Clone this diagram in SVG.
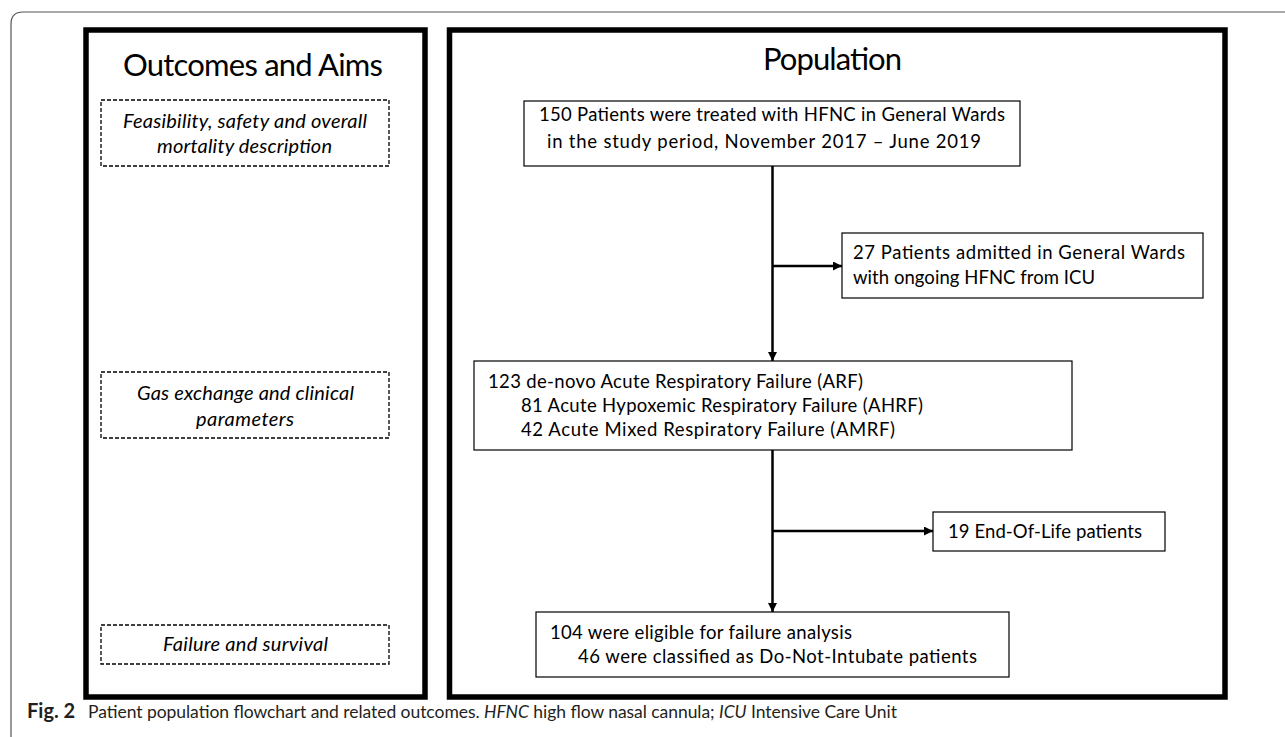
<svg xmlns="http://www.w3.org/2000/svg" width="1285" height="737" viewBox="0 0 1285 737">
<defs>
<marker id="arr" viewBox="0 0 10 10" refX="10" refY="5" markerWidth="10" markerHeight="9" markerUnits="userSpaceOnUse" orient="auto">
<path d="M0,0 L10,5 L0,10 z" fill="#000"/>
</marker>
<style>
.panel{fill:#fff;stroke:#000;stroke-width:5.5}
.dash{fill:#fff;stroke:#000;stroke-width:1.3;stroke-dasharray:4 2}
.box{fill:#fff;stroke:#000;stroke-width:1.2}
.title{font-family:Lato,"Open Sans",sans-serif;font-size:31px;fill:#000}
.it{font-family:Lato,"Open Sans",sans-serif;font-size:20px;font-style:italic;fill:#000}
.t{font-family:Lato,"Open Sans",sans-serif;font-size:18.5px;fill:#000}
.cap{font-family:Lato,"Open Sans",sans-serif;font-size:17.5px;fill:#231f20}
.capb{font-family:Lato,"Open Sans",sans-serif;font-size:20px;font-weight:bold;fill:#231f20}
.conn{stroke:#000;stroke-width:2.5;fill:none}
</style>
</defs>
<rect width="1285" height="737" fill="#fff"/>
<path d="M11,737 V24 Q11,12 23,12 H1285" fill="none" stroke="#555" stroke-width="1.2"/>

<g id="panel-outcomes">
<rect class="panel" x="86" y="30" width="339" height="667"/>
<text class="title" x="123" y="76" textLength="260">Outcomes and Aims</text>
</g>
<g id="aim-feasibility">
<rect class="dash" x="101" y="100" width="288" height="66"/>
<text class="it" x="123" y="128" textLength="244">Feasibility, safety and overall</text>
<text class="it" x="157" y="153" textLength="175">mortality description</text>
</g>
<g id="aim-gas">
<rect class="dash" x="101" y="372" width="288" height="66"/>
<text class="it" x="137" y="400" textLength="217">Gas exchange and clinical</text>
<text class="it" x="196" y="426" textLength="98">parameters</text>
</g>
<g id="aim-failure">
<rect class="dash" x="101" y="625" width="288" height="39"/>
<text class="it" x="163" y="651" textLength="165">Failure and survival</text>
</g>

<g id="panel-population">
<rect class="panel" x="449.5" y="30" width="775.5" height="667"/>
<text class="title" x="763" y="70" textLength="139">Population</text>
</g>

<g id="connectors">
<line class="conn" x1="772.5" y1="166" x2="772.5" y2="361" marker-end="url(#arr)"/>
<line class="conn" x1="772.5" y1="266" x2="842" y2="266" marker-end="url(#arr)"/>
<line class="conn" x1="772.5" y1="450" x2="772.5" y2="612" marker-end="url(#arr)"/>
<line class="conn" x1="772.5" y1="531" x2="933" y2="531" marker-end="url(#arr)"/>
</g>

<g id="n150">
<rect class="box" x="524" y="101" width="496" height="65"/>
<text class="t" x="539" y="121" textLength="466">150 Patients were treated with HFNC in General Wards</text>
<text class="t" x="547" y="148" textLength="434">in the study period, November 2017 – June 2019</text>
</g>
<g id="n27">
<rect class="box" x="842" y="233" width="361" height="65"/>
<text class="t" x="853" y="259" textLength="332">27 Patients admitted in General Wards</text>
<text class="t" x="853" y="284" textLength="242">with ongoing HFNC from ICU</text>
</g>
<g id="n123">
<rect class="box" x="474" y="361" width="598" height="89"/>
<text class="t" x="488" y="388" textLength="375">123 de-novo Acute Respiratory Failure (ARF)</text>
<text class="t" x="521" y="412" textLength="402">81 Acute Hypoxemic Respiratory Failure (AHRF)</text>
<text class="t" x="521" y="436" textLength="374">42 Acute Mixed Respiratory Failure (AMRF)</text>
</g>
<g id="n19">
<rect class="box" x="933" y="512" width="232" height="39"/>
<text class="t" x="948" y="538" textLength="194">19 End-Of-Life patients</text>
</g>
<g id="n104">
<rect class="box" x="536" y="612" width="473" height="65"/>
<text class="t" x="550" y="639" textLength="302">104 were eligible for failure analysis</text>
<text class="t" x="578" y="663" textLength="399">46 were classified as Do-Not-Intubate patients</text>
</g>

<text class="capb" x="27" y="718">Fig. 2</text>
<text class="cap" x="88" y="718" textLength="809">Patient population flowchart and related outcomes. <tspan font-style="italic">HFNC</tspan> high flow nasal cannula; <tspan font-style="italic">ICU</tspan> Intensive Care Unit</text>
</svg>
